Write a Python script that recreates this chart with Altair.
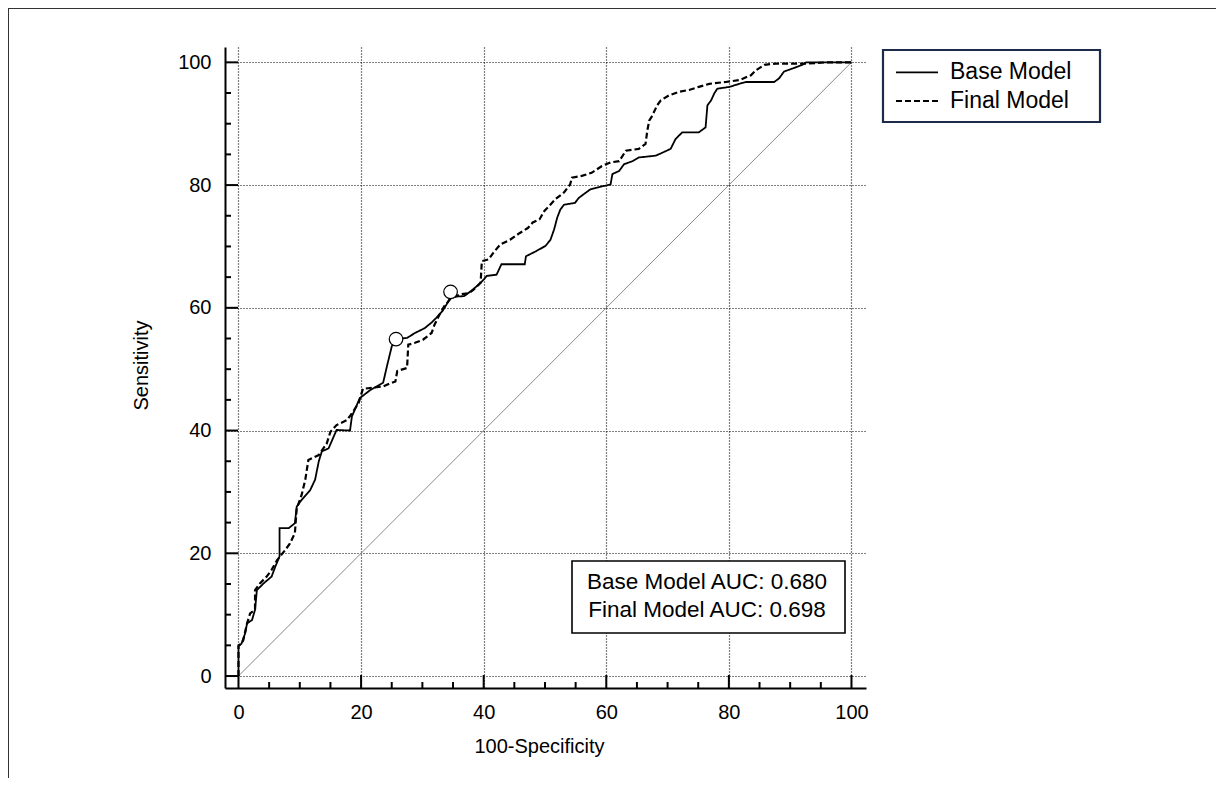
import altair as alt
import pandas as pd

# ---------------- data ----------------
base_fpr = [0, 0, 0.5, 1.1, 1.4, 2.2, 2.7, 3.0, 4.1, 5.4, 6.0, 6.7, 6.7, 8.2, 9.2, 9.5, 10.3, 11.7, 12.5,
            13.1, 13.6, 14.7, 16.0, 18.2, 18.5, 19.8, 21.5, 23.6, 24.2, 25.0, 25.6, 27.5, 28.8, 30.4,
            31.5, 32.3, 33.3, 34.1, 34.6, 36.8, 37.9, 39.2, 40.0, 40.5, 42.1, 42.9, 46.7, 46.9, 48.5,
            50.1, 50.9, 51.5, 52.0, 52.5, 53.1, 54.9, 55.5, 56.3, 57.4, 58.5, 60.7, 61.0, 62.1, 62.9,
            64.3, 65.3, 68.1, 69.2, 70.5, 71.3, 72.4, 75.1, 76.2, 76.5, 77.1, 77.6, 78.1, 80.1, 81.7,
            82.8, 87.4, 88.2, 89.0, 90.4, 92.0, 92.6, 100]
base_tpr = [0, 4.8, 5.3, 7.0, 8.6, 9.1, 10.8, 14.0, 15.1, 16.2, 17.8, 19.5, 24.1, 24.1, 24.9, 27.6, 28.7, 30.3, 32.0,
            35.0, 36.6, 37.1, 40.1, 40.0, 42.3, 45.3, 46.6, 47.8, 50.4, 53.7, 54.9, 55.1, 55.9, 56.7,
            57.6, 58.4, 59.5, 60.8, 61.8, 61.9, 62.7, 63.8, 64.6, 65.2, 65.4, 67.1, 67.1, 68.4, 69.2,
            70.1, 71.1, 72.8, 74.7, 76.0, 76.8, 77.1, 77.9, 78.5, 79.3, 79.6, 80.1, 81.8, 82.3, 83.4,
            83.9, 84.5, 84.8, 85.3, 85.9, 87.5, 88.6, 88.6, 89.4, 93.0, 93.8, 94.9, 95.7, 96.0, 96.5,
            96.8, 96.8, 97.4, 98.5, 99.0, 99.6, 100, 100]

final_fpr = [0, 0, 0.5, 0.8, 1.4, 1.9, 2.7, 2.7, 3.5, 4.6, 5.4, 6.3, 7.6, 8.4, 9.2, 9.5, 10.3, 10.9, 11.4,
             12.0, 13.1, 14.4, 15.0, 16.0, 17.7, 18.5, 19.6, 20.3, 23.6, 24.3, 25.6, 25.9, 27.5, 27.7,
             28.8, 30.1, 31.5, 32.0, 32.8, 33.6, 34.7, 36.3, 37.6, 38.4, 39.5, 39.7, 40.8, 41.6, 42.7,
             44.3, 45.9, 47.2, 48.0, 49.1, 49.9, 50.7, 51.7, 53.1, 54.1, 54.4, 56.0, 57.6, 59.3, 60.7,
             62.1, 63.2, 65.3, 66.4, 66.7, 67.0, 67.5, 68.3, 68.9, 70.2, 71.9, 73.5, 75.1, 76.8, 79.5,
             81.7, 83.6, 84.4, 85.8, 87.7, 92.6, 95.9, 100]
final_tpr = [0, 5.0, 5.3, 5.9, 8.6, 10.2, 10.8, 14.0, 15.1, 16.2, 17.3, 18.9, 20.5, 21.6, 23.3, 27.3, 29.5, 32.0, 35.2,
             35.5, 36.0, 37.9, 39.8, 40.9, 41.7, 42.8, 44.5, 46.8, 47.2, 47.5, 48.0, 49.7, 50.2, 54.0,
             54.3, 54.8, 55.9, 57.3, 58.9, 60.3, 61.6, 62.2, 62.4, 63.0, 64.1, 67.6, 67.9, 69.0, 70.3,
             71.1, 72.2, 73.0, 73.9, 74.4, 75.8, 76.6, 77.7, 78.8, 80.1, 81.2, 81.5, 82.0, 83.1, 83.7,
             83.9, 85.6, 85.9, 86.7, 88.9, 90.5, 91.3, 93.0, 93.8, 94.6, 95.2, 95.5, 96.0, 96.5, 96.8,
             97.1, 97.9, 98.7, 99.6, 99.8, 99.8, 100, 100]

models = ["Base Model", "Final Model"]
auc_values = [0.680, 0.698]
cut_fpr = [25.7, 34.6]
cut_tpr = [54.9, 62.6]
diag = [0, 100]
tick_vals = list(range(0, 101, 5))

# ---------------- geometry / style ----------------
W, H = 641, 641
XS = alt.Scale(domain=[-2.2, 102.37], nice=False, zero=False)
YS = alt.Scale(domain=[-1.95, 102.5], nice=False, zero=False)
SANS = "Liberation Sans, Arial, sans-serif"

common_axis = dict(values=[0, 20, 40, 60, 80, 100], grid=True, gridColor="black", gridDash=[1, 2],
                   gridWidth=1.2, gridOpacity=1, ticks=False, tickSize=0, domainColor="black",
                   domainWidth=2, labelFont=SANS, labelFontSize=20, labelColor="black",
                   labelPadding=14, titleFont=SANS, titleFontSize=20, titleColor="black",
                   titleFontWeight="normal")
X_AX = alt.Axis(title="100-Specificity", titleX=314, titleY=58, titleBaseline="middle",
                **common_axis)
Y_AX = alt.Axis(title="Sensitivity", titleX=-84, titleY=318, titleBaseline="middle",
                titleAngle=270, **common_axis)

X = lambda f: alt.X(f, type="quantitative", scale=XS, axis=X_AX)
Y = lambda f: alt.Y(f, type="quantitative", scale=YS, axis=Y_AX)

rows = []
for m, fx, fy in [(models[0], base_fpr, base_tpr), (models[1], final_fpr, final_tpr)]:
    for i, (a, b) in enumerate(zip(fx, fy)):
        rows.append({"x": a, "y": b, "model": m, "i": i})
curves_df = pd.DataFrame(rows)

diag_df = pd.DataFrame({"x": diag, "y": diag})
ticks_df = pd.DataFrame({"x": tick_vals, "y": tick_vals,
                         "len": [13 if v % 20 == 0 else 6 for v in tick_vals]})
cut_df = pd.DataFrame({"x": cut_fpr, "y": cut_tpr})

diag_layer = alt.Chart(diag_df).mark_line(color="#8a8a8a", strokeWidth=1).encode(x=X("x"), y=Y("y"))

DASH = alt.Scale(domain=models, range=[[1, 0], [6, 3]])
SW = alt.Scale(domain=models, range=[1.8, 2.2])

curves = alt.Chart(curves_df).mark_line(color="black", interpolate="linear").encode(
    x=X("x"), y=Y("y"), order="i:Q",
    strokeDash=alt.StrokeDash("model:N", scale=DASH, legend=None),
    strokeWidth=alt.StrokeWidth("model:N", scale=SW, legend=None),
)

cuts = alt.Chart(cut_df).mark_point(shape="circle", filled=True, fill="white", stroke="black",
                                    strokeWidth=1.2, size=185, opacity=1).encode(x=X("x"), y=Y("y"))

xticks = alt.Chart(ticks_df).transform_calculate(y0=f"{H} - datum.len").mark_rule(
    color="black", strokeWidth=2).encode(x=X("x"), y=alt.Y("y0:Q", scale=None), y2=alt.value(H))
yticks = alt.Chart(ticks_df).mark_rule(color="black", strokeWidth=2).encode(
    y=Y("y"), x=alt.X("len:Q", scale=None), x2=alt.value(0))

# AUC box
auc_df = pd.DataFrame({"label": [f"{m} AUC: {v:.3f}" for m, v in zip(models, auc_values)],
                       "row": [0, 1]})
one = pd.DataFrame({"a": [0]})
auc_rect = alt.Chart(one).mark_rect(fill="white", stroke="black", strokeWidth=1.6).encode(
    x=alt.value(347), x2=alt.value(620), y=alt.value(514), y2=alt.value(586))
auc_text = alt.Chart(auc_df).transform_calculate(py="534.5 + datum.row * 28.5").mark_text(
    font=SANS, fontSize=22.5, color="black", align="center", baseline="middle").encode(
    x=alt.value(482), y=alt.Y("py:Q", scale=None), text="label:N")

# legend (drawn)
leg_df = pd.DataFrame({"model": models, "row": [0, 1]})
leg_rect = alt.Chart(one).mark_rect(fill="white", stroke="#1c2b4a", strokeWidth=2.2).encode(
    x=alt.value(658), x2=alt.value(875), y=alt.value(3), y2=alt.value(75))
leg_lines = alt.Chart(leg_df).transform_calculate(py="25.3 + datum.row * 28.7",
                                                  px0="671", px1="713").mark_rule(color="black").encode(
    x=alt.X("px0:Q", scale=None), x2="px1:Q", y=alt.Y("py:Q", scale=None),
    strokeDash=alt.StrokeDash("model:N", scale=DASH, legend=None),
    strokeWidth=alt.StrokeWidth("model:N", scale=SW, legend=None))
leg_text = alt.Chart(leg_df).transform_calculate(py="25 + datum.row * 28.7").mark_text(
    font=SANS, fontSize=23, color="black", align="left", baseline="middle").encode(
    x=alt.value(725), y=alt.Y("py:Q", scale=None), text="model:N")

# outer frame
frame_top = alt.Chart(one).mark_rule(color="#333333", strokeWidth=1).encode(
    x=alt.value(-217), x2=alt.value(991), y=alt.value(-38.5))
frame_left = alt.Chart(one).mark_rule(color="#333333", strokeWidth=1).encode(
    x=alt.value(-216.5), y=alt.value(-39), y2=alt.value(H + 90))

chart = alt.layer(
    diag_layer, curves, xticks, yticks, auc_rect, auc_text, cuts,
    leg_rect, leg_lines, leg_text, frame_top, frame_left
).properties(
    width=W, height=H,
    autosize=alt.AutoSizeParams(type="none"),
    padding={"left": 217, "top": 39, "right": 350, "bottom": 90},
    background="white",
).configure_view(stroke=None)

chart.save("out.html", embed_options={"renderer": "svg", "actions": False})
